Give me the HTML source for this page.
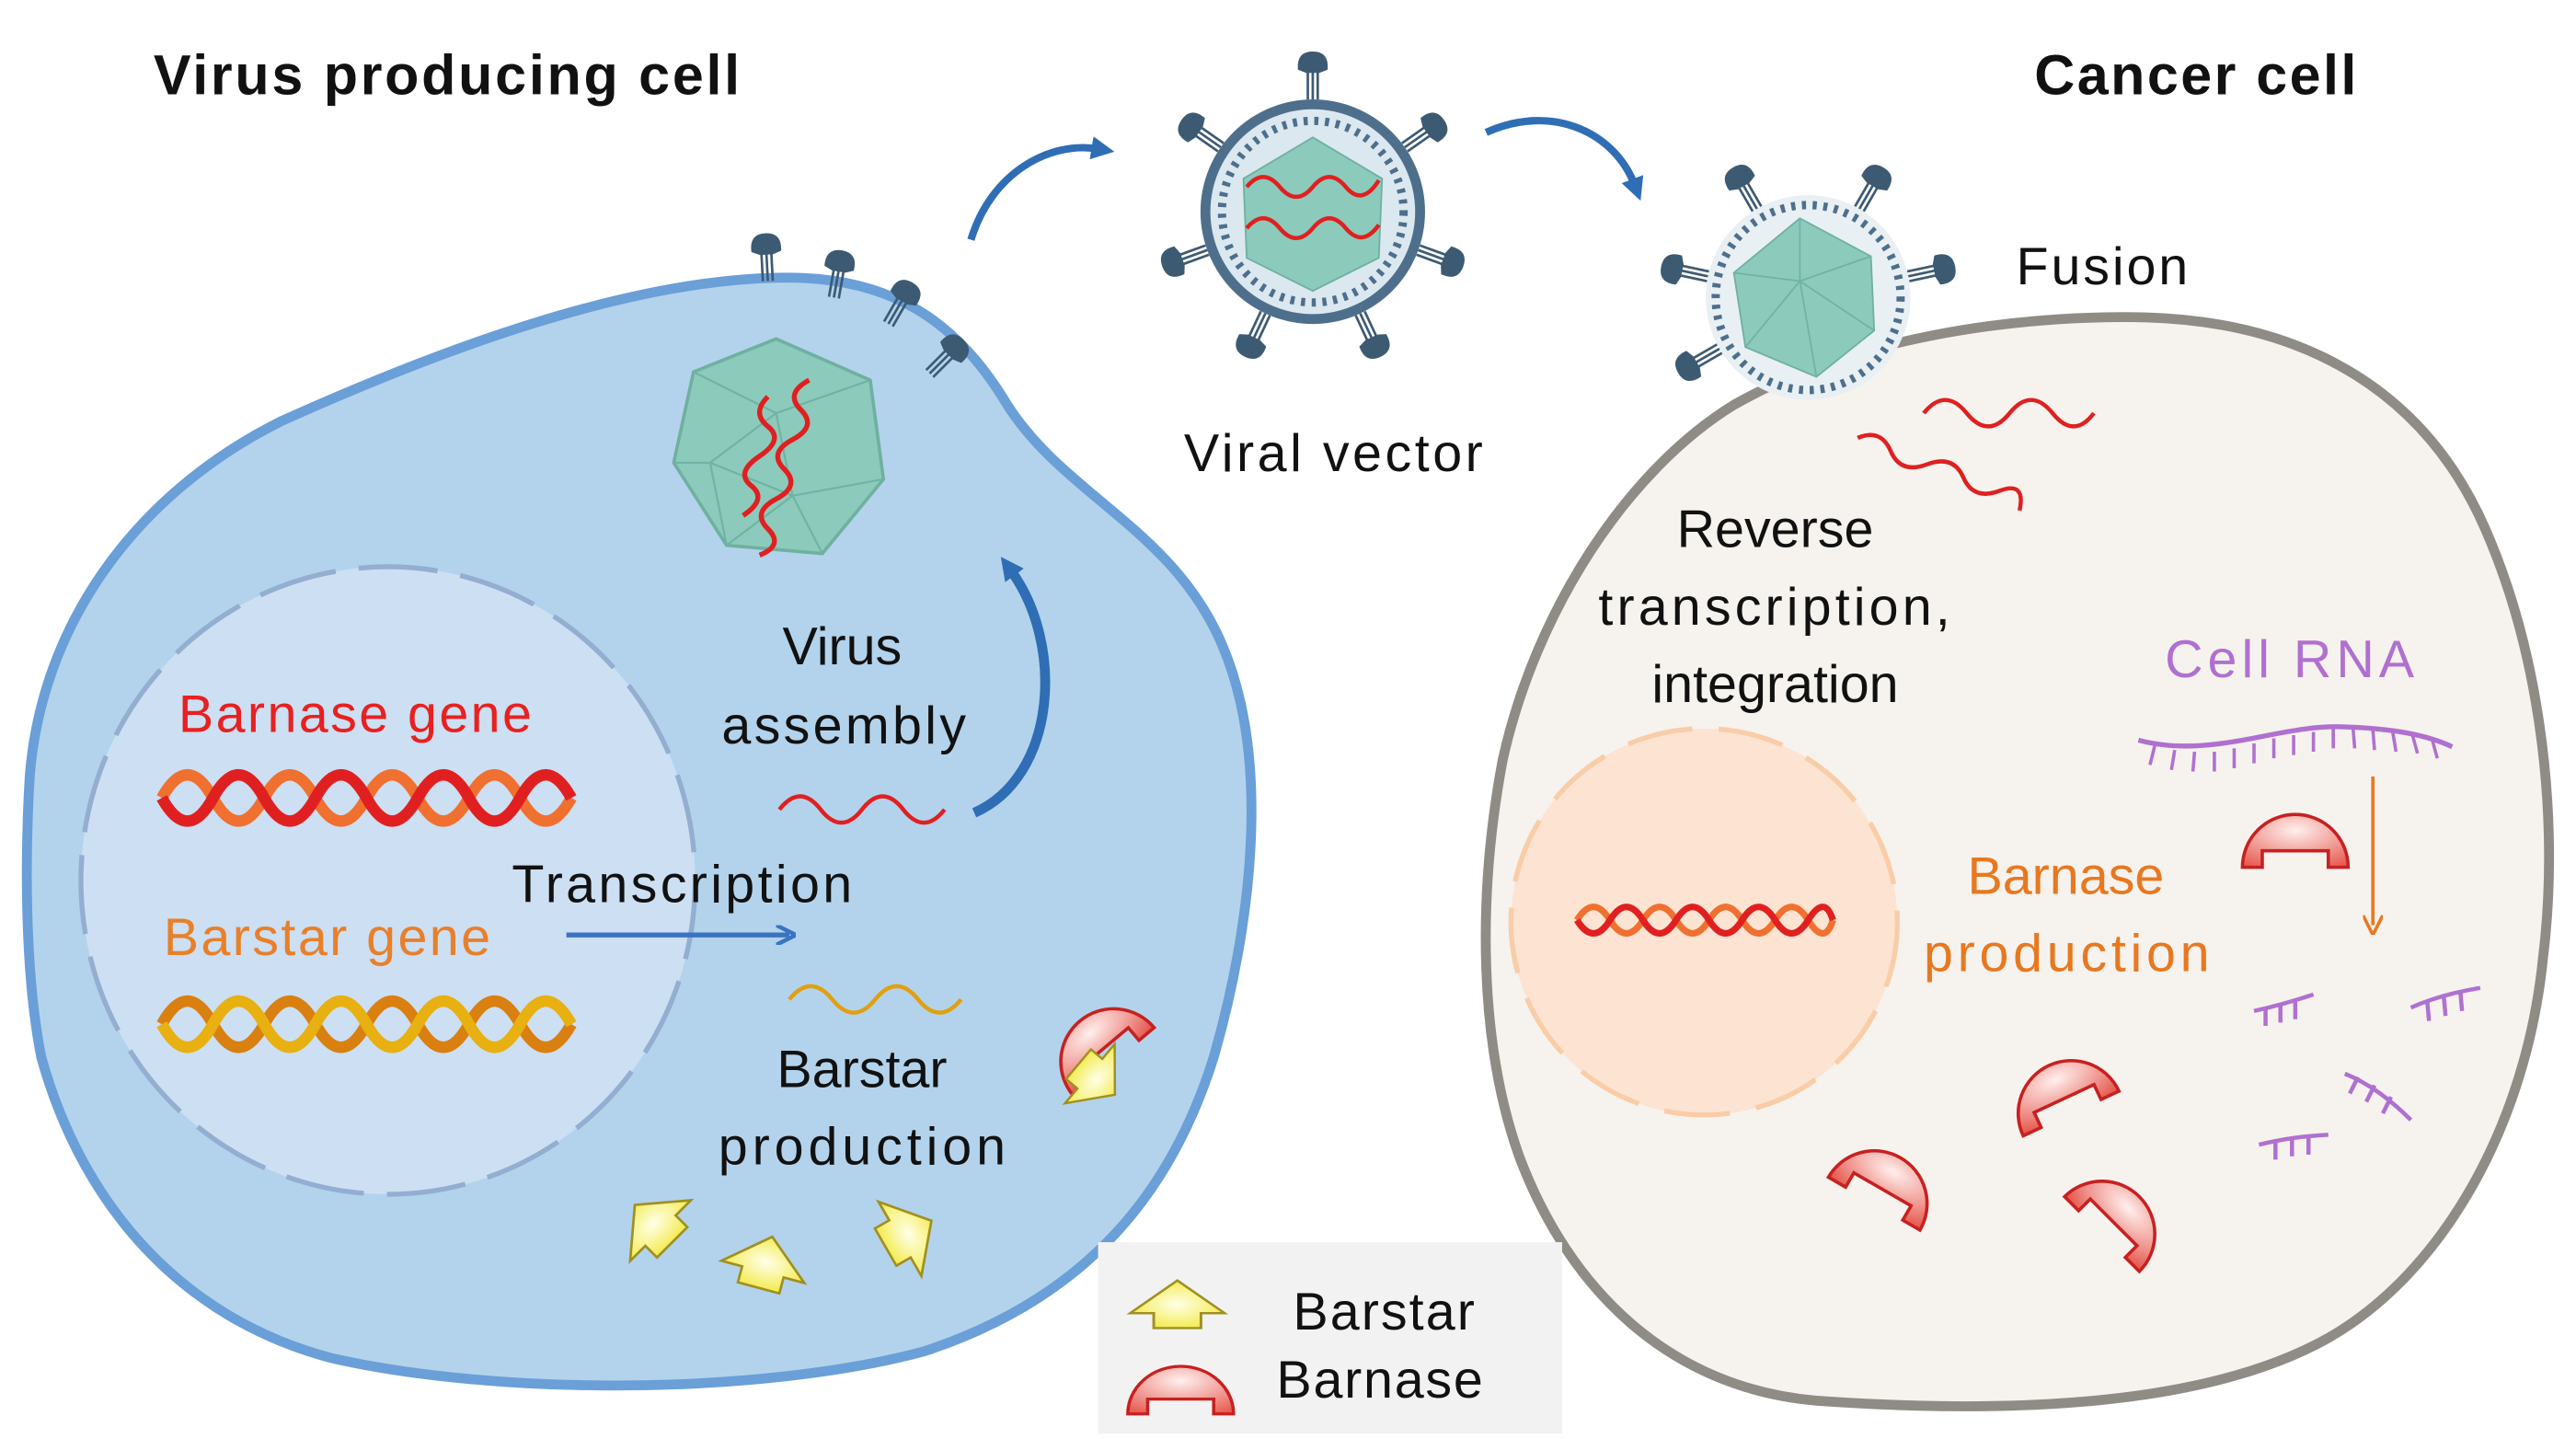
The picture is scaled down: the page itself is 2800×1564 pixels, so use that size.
<!DOCTYPE html>
<html><head><meta charset="utf-8"><style>html,body{margin:0;padding:0;background:#fff}svg{display:block}text{font-family:"Liberation Sans",sans-serif;font-size:32px;fill:#111}</style></head><body>
<svg width="2800" height="1564" viewBox="0 0 1560 871" xmlns="http://www.w3.org/2000/svg">
<defs>
<radialGradient id="yg" cx="0.5" cy="0.5" r="0.6"><stop offset="0" stop-color="#ffffe8"/><stop offset="1" stop-color="#f2e83a"/></radialGradient>
<radialGradient id="rg" cx="0.5" cy="0.3" r="0.8"><stop offset="0" stop-color="#fff0ee"/><stop offset="1" stop-color="#e65a50"/></radialGradient>
<g id="star"><polygon points="0,-22 26,0 13,0 13,10 -13,10 -13,0 -26,0" fill="url(#yg)" stroke="#a09020" stroke-width="1.5"/></g>
<g id="nase"><path d="M-32,10 A32,32 0 0 1 32,10 L20,10 L20,0 L-20,0 L-20,10 Z" fill="url(#rg)" stroke="#c82020" stroke-width="2"/></g>
<g id="spk"><line x1="-3" y1="0" x2="-3" y2="-18" stroke="#3d5a73" stroke-width="1.5"/><line x1="0" y1="0" x2="0" y2="-18" stroke="#3d5a73" stroke-width="1.5"/><line x1="3" y1="0" x2="3" y2="-18" stroke="#3d5a73" stroke-width="1.5"/><path d="M-9,-18 Q-10,-29 0,-29 Q10,-29 9,-18 L4,-16 L-4,-16 Z" fill="#3d5a73"/></g>
<marker id="ah" markerWidth="14" markerHeight="14" refX="4" refY="7" orient="auto" markerUnits="userSpaceOnUse"><path d="M0,0 L14,7 L0,14 Z" fill="#2f6eb5"/></marker>
<marker id="ah2" markerWidth="12" markerHeight="12" refX="8" refY="6" orient="auto" markerUnits="userSpaceOnUse"><path d="M0,0 L12,6 L0,12" fill="none" stroke="#3a74c0" stroke-width="2.5"/></marker>
<marker id="ah3" markerWidth="12" markerHeight="12" refX="6" refY="6" orient="auto" markerUnits="userSpaceOnUse"><path d="M0,0 L12,6 L0,12" fill="none" stroke="#e87820" stroke-width="2"/></marker>
</defs>
<rect width="1560" height="871" fill="#fff"/>

<!-- Left cell -->
<path d="M18,470 C25,380 80,300 170,255 C270,210 380,170 470,168 C540,166 580,195 610,245 C645,300 710,320 740,390 C770,460 758,560 735,640 C710,720 660,785 560,818 C460,845 300,845 200,822 C110,798 50,730 25,640 C15,590 15,520 18,470 Z" fill="#b3d3ec" stroke="#6a9fd8" stroke-width="6"/>
<ellipse cx="235" cy="533" rx="186" ry="190" fill="#cddff2" stroke="#93aed0" stroke-width="3" stroke-dasharray="48 14"/>

<!-- capsid left -->
<polygon points="470,205 527,230 535,290 498,335 440,330 408,280 420,225" fill="#8ccabc" stroke="#6fb0a0" stroke-width="2"/>
<path d="M420,225 L470,250 L527,230 M470,250 L480,300 L535,290 M480,300 L440,330 M480,300 L498,335 M470,250 L430,280 L408,280 M430,280 L440,330 M430,280 L480,300" stroke="#70b3a3" stroke-width="1.2" fill="none"/>
<path d="M490,230 q-15,8 -5,18 t-5,18 t-5,18 t-5,18 t-5,18 t-5,16" stroke="#e02020" stroke-width="3" fill="none"/>
<path d="M465,240 q-10,10 0,18 t-5,18 t-5,18 t-5,18" stroke="#e02020" stroke-width="3" fill="none"/>
<use href="#spk" transform="translate(465,170) rotate(-3)"/>
<use href="#spk" transform="translate(505,180) rotate(10)"/>
<use href="#spk" transform="translate(538,196) rotate(30)"/>
<use href="#spk" transform="translate(563,226) rotate(45)"/>

<!-- genes -->
<path d="M98,483 q15.5,-28 31,0 t31,0 t31,0 t31,0 t31,0 t31,0 t31,0 t31,0" stroke="#f07030" stroke-width="7" fill="none"/>
<path d="M98,483 q15.5,28 31,0 t31,0 t31,0 t31,0 t31,0 t31,0 t31,0 t31,0" stroke="#e02020" stroke-width="7" fill="none"/>
<path d="M98,620 q15.5,-28 31,0 t31,0 t31,0 t31,0 t31,0 t31,0 t31,0 t31,0" stroke="#d98010" stroke-width="7" fill="none"/>
<path d="M98,620 q15.5,28 31,0 t31,0 t31,0 t31,0 t31,0 t31,0 t31,0 t31,0" stroke="#e8b010" stroke-width="7" fill="none"/>

<text x="108" y="443" style="fill:#e82020" textLength="214">Barnase gene</text>
<text x="99" y="578" style="fill:#e8802a" textLength="198">Barstar gene</text>
<text x="310" y="546" textLength="206">Transcription</text>
<line x1="343" y1="566" x2="478" y2="566" stroke="#3a74c0" stroke-width="3" marker-end="url(#ah2)"/>
<text x="510" y="402" text-anchor="middle">Virus</text>
<text x="437" y="450" textLength="148">assembly</text>
<path d="M472,490 q12.5,-16 25,0 t25,0 t25,0 t25,0" stroke="#e02020" stroke-width="2.5" fill="none"/>
<path d="M478,605 q13,-16 26,0 t26,0 t26,0 t26,0" stroke="#e0a010" stroke-width="2.5" fill="none"/>
<text x="522" y="658" text-anchor="middle">Barstar</text>
<text x="435" y="705" textLength="174">production</text>
<!-- assembly arrow -->
<path d="M590,492 C640,470 645,390 612,345" stroke="#2f6eb5" stroke-width="6" fill="none" marker-end="url(#ah)"/>
<g transform="translate(668,635) rotate(-40)"><use href="#nase"/></g>
<use href="#star" transform="translate(660,650) rotate(130) scale(0.9)"/>
<use href="#star" transform="translate(400,745) rotate(-45)"/>
<use href="#star" transform="translate(462,770) rotate(15)"/>
<use href="#star" transform="translate(545,750) rotate(60)"/>

<text x="93" y="57" style="font-weight:bold;font-size:34px" textLength="355">Virus producing cell</text>
<text x="1232" y="57" style="font-weight:bold;font-size:34px" textLength="195">Cancer cell</text>

<!-- top arrows -->
<path d="M588,145 C600,105 635,85 665,90" stroke="#2f6eb5" stroke-width="4.5" fill="none" marker-end="url(#ah)"/>
<path d="M900,80 C940,62 978,80 990,112" stroke="#2f6eb5" stroke-width="4.5" fill="none" marker-end="url(#ah)"/>

<!-- middle virus -->
<g transform="translate(795,128)">
<use href="#spk" transform="rotate(0) translate(0,-68)"/>
<use href="#spk" transform="rotate(-55) translate(0,-68)"/>
<use href="#spk" transform="rotate(55) translate(0,-68)"/>
<use href="#spk" transform="rotate(-110) translate(0,-68)"/>
<use href="#spk" transform="rotate(110) translate(0,-68)"/>
<use href="#spk" transform="rotate(-155) translate(0,-68)"/>
<use href="#spk" transform="rotate(155) translate(0,-68)"/>
<circle r="68" fill="#4e6f8c"/>
<circle r="62" fill="#dbe8f0"/>
<circle r="55" fill="none" stroke="#4e6f8c" stroke-width="5" stroke-dasharray="2.5 4"/>
<polygon points="0,-45 42,-20 40,28 0,48 -40,28 -42,-20" fill="#8ccabc" stroke="#6fb0a0"/>
<path d="M-40,-15 q10,-12 20,0 t20,0 t20,0 t20,-4" stroke="#e02020" stroke-width="2.5" fill="none"/>
<path d="M-40,10 q10,-12 20,0 t20,0 t20,0 t20,-2" stroke="#e02020" stroke-width="2.5" fill="none"/>
</g>
<text x="717" y="285" textLength="181">Viral vector</text>

<!-- Right cell -->
<path d="M1050,245 C1120,205 1220,190 1300,192 C1400,195 1470,240 1505,320 C1540,400 1550,500 1540,580 C1530,680 1480,770 1410,810 C1330,855 1200,855 1100,848 C1010,840 950,780 920,700 C895,630 895,540 910,460 C930,370 985,285 1050,245 Z" fill="#f6f3ee" stroke="#8f8c86" stroke-width="6"/>
<circle cx="1032" cy="558" r="117" fill="#fde3d2" stroke="#f9cda8" stroke-width="3" stroke-dasharray="40 16"/>
<path d="M955,557 q10,-16 20,0 t20,0 t20,0 t20,0 t20,0 t20,0 t20,0 t15,0" stroke="#f07030" stroke-width="4" fill="none"/>
<path d="M955,557 q10,16 20,0 t20,0 t20,0 t20,0 t20,0 t20,0 t20,0 t15,0" stroke="#e02020" stroke-width="4" fill="none"/>

<!-- fusion virus -->
<g transform="translate(1095,180)">
<use href="#spk" transform="rotate(-30) translate(0,-62)"/>
<use href="#spk" transform="rotate(30) translate(0,-62)"/>
<use href="#spk" transform="rotate(-78) translate(0,-62)"/>
<use href="#spk" transform="rotate(78) translate(0,-62)"/>
<use href="#spk" transform="rotate(-120) translate(0,-62)"/>
<circle r="62" fill="#e8f0f4"/>
<circle r="56" fill="none" stroke="#4e6f8c" stroke-width="5" stroke-dasharray="2.5 4"/>
<polygon points="-5,-48 38,-25 40,20 5,48 -38,30 -45,-15" fill="#8ccabc" stroke="#6fb0a0"/>
<path d="M-45,-15 L-5,-10 L38,-25 M-5,-10 L5,48 M-5,-10 L-5,-48 M-5,-10 L-38,30 M-5,-10 L40,20" stroke="#70b3a3" stroke-width="1" fill="none"/>
</g>
<text x="1221" y="172" textLength="104">Fusion</text>
<path d="M1165,250 q13,-16 26,0 t26,0 t26,0 t25,0" stroke="#e02020" stroke-width="2.5" fill="none"/>
<path d="M1125,265 q14,-6 20,8 t22,8 t22,8 t22,8 t12,12" stroke="#e02020" stroke-width="2.5" fill="none"/>

<text x="1075" y="331" text-anchor="middle">Reverse</text>
<text x="968" y="378" textLength="213">transcription,</text>
<text x="1075" y="425" text-anchor="middle">integration</text>
<text x="1311" y="410" style="fill:#b070d0" textLength="151">Cell RNA</text>
<text x="1251" y="541" text-anchor="middle" style="fill:#e87820">Barnase</text>
<text x="1165" y="588" style="fill:#e87820" textLength="173">production</text>

<!-- cell RNA -->
<path d="M1295,448 C1340,460 1380,438 1420,440 C1450,441 1470,445 1485,452" stroke="#b070d0" stroke-width="3" fill="none"/>
<path d="M1305,451 l-3,12 M1317,454 l-2,12 M1329,455 l-1,12 M1341,455 l0,12 M1353,453 l0,12 M1365,450 l0,12 M1377,447 l0,12 M1389,445 l0,12 M1401,443 l0,12 M1413,441 l0,12 M1425,441 l1,12 M1437,442 l1,12 M1449,443 l2,12 M1461,445 l3,11 M1473,448 l3,11" stroke="#b070d0" stroke-width="2"/>
<line x1="1437" y1="470" x2="1437" y2="560" stroke="#e87820" stroke-width="2" marker-end="url(#ah3)"/>
<g stroke="#b070d0" stroke-width="2.5" fill="none">
<path d="M1365,612 q18,-4 36,-10 M1372,610 l0,11 M1381,608 l0,11 M1390,606 l0,11"/>
<path d="M1460,610 q18,-8 42,-12 M1470,607 l1,11 M1480,604 l1,11 M1490,601 l1,11"/>
<path d="M1420,650 q20,8 40,28 M1428,652 l-5,10 M1438,657 l-5,10 M1448,664 l-5,10"/>
<path d="M1368,693 q20,-5 42,-6 M1378,691 l0,11 M1388,689 l0,11 M1398,688 l0,11"/>
</g>
<use href="#nase" transform="translate(1390,515)"/>
<use href="#nase" transform="translate(1250,665) rotate(-25)"/>
<use href="#nase" transform="translate(1140,720) rotate(30)"/>
<use href="#nase" transform="translate(1280,740) rotate(45)"/>

<!-- legend -->
<rect x="665" y="752" width="281" height="116" fill="#f2f2f2"/>
<use href="#star" transform="translate(713,795) scale(1.1,0.9)"/>
<use href="#nase" transform="translate(715,847) scale(1,0.9)"/>
<text x="783" y="805" textLength="110">Barstar</text>
<text x="773" y="846" textLength="125">Barnase</text>
</svg>
</body></html>
